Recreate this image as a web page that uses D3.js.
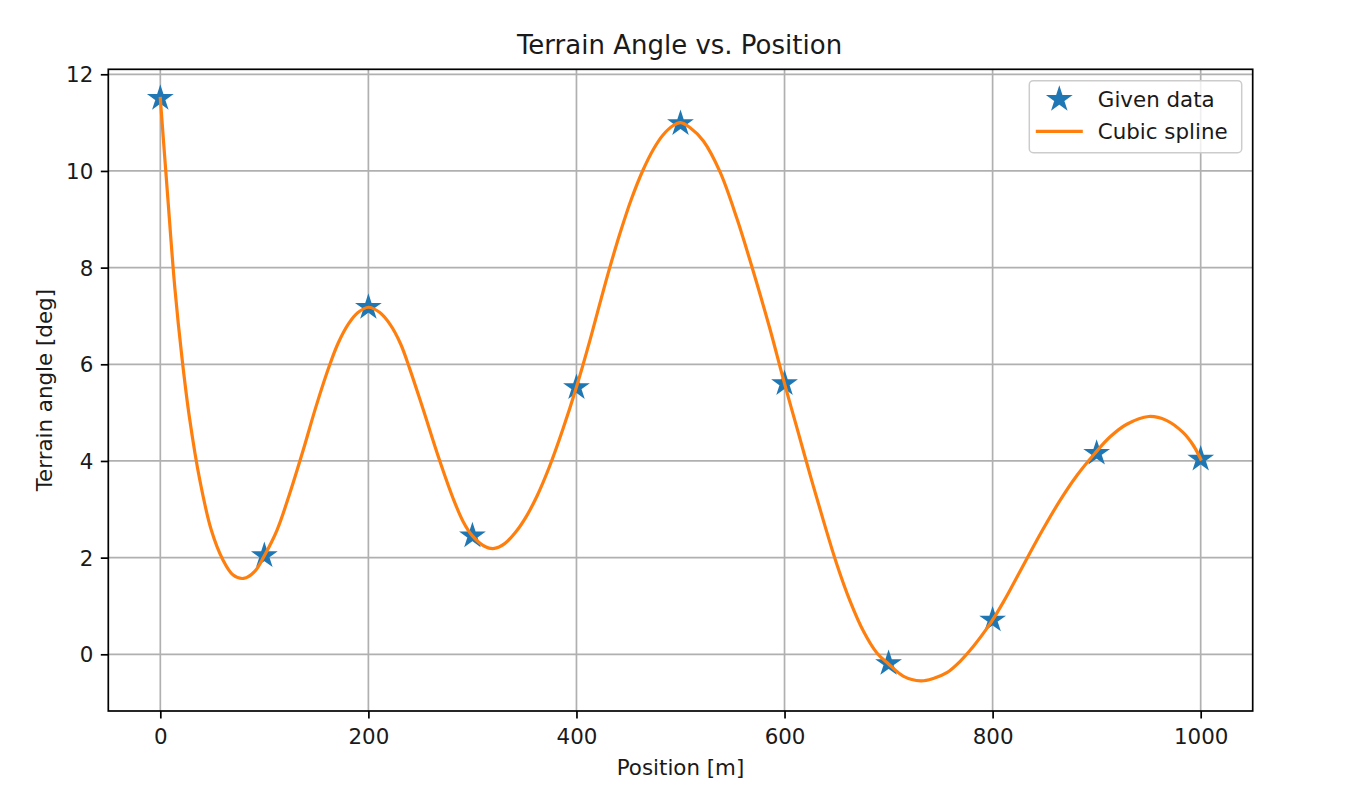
<!DOCTYPE html>
<html>
<head>
<meta charset="utf-8">
<script src="https://cdn.jsdelivr.net/npm/d3@7"></script>
<style>
    body { margin: 0; background: #fff; }
    text { font-family: 'DejaVu Sans', sans-serif; }
</style>
</head>
<body>
<svg id="canvas"></svg>
<script>
let width = 1347;
let height = 810;
let plotLeft = 108.3;
let plotRight = 1252.7;
let plotTop = 69.3;
let plotBottom = 711;

// given data (stars)
const positions = [0, 100, 200, 300, 400, 500, 600, 700, 800, 900, 1000];
const angles = [11.5, 2.04, 7.18, 2.45, 5.52, 10.98, 5.6, -0.19, 0.71, 4.16, 4.04];

// spline curve
const splinePositions = [
    0, 7, 14, 21, 28, 38, 49, 60, 70, 80, 91, 100, 112, 124, 137, 150, 163, 171, 181,
    190, 200, 211, 221, 231, 240, 252, 268, 281, 291, 300, 312, 321, 331, 342, 352,
    362, 374, 387, 400, 413, 422, 432, 442, 453, 464, 474, 483, 493, 500, 509, 522,
    538, 554, 570, 586, 600, 612, 625, 638, 650, 663, 676, 689, 700, 714, 731, 743,
    756, 769, 781, 794, 800, 810, 816, 832, 848, 865, 881, 898, 913, 929, 950, 967,
    983, 993, 1000,
];
const splineAngles = [
    11.5, 9.5, 7.57, 6.1, 4.9, 3.6, 2.57, 1.96, 1.64, 1.57, 1.72, 2.04, 2.56, 3.3, 4.2,
    5.15, 6.0, 6.44, 6.84, 7.07, 7.18, 7.07, 6.82, 6.42, 5.89, 5.11, 4.04, 3.25, 2.75,
    2.45, 2.23, 2.19, 2.29, 2.54, 2.86, 3.27, 3.88, 4.66, 5.53, 6.5, 7.22, 8.0, 8.72,
    9.43, 10.02, 10.45, 10.74, 10.94, 11.0, 10.9, 10.62, 9.98, 9.03, 7.92, 6.73, 5.6,
    4.68, 3.68, 2.72, 1.88, 1.1, 0.47, 0.02, -0.2, -0.45, -0.55, -0.5, -0.38, -0.14,
    0.15, 0.52, 0.71, 1.07, 1.3, 1.94, 2.57, 3.19, 3.7, 4.15, 4.5, 4.76, 4.92, 4.84,
    4.59, 4.32, 4.04,
];

const xTicks = [0, 200, 400, 600, 800, 1000];
const yTicks = [0, 2, 4, 6, 8, 10, 12];
const legendLabels = ['Given data', 'Cubic spline'];

const blue = '#1f77b4';
const orange = '#ff7f0e';
const ink = '#1a1a1a';

let canvas = d3.select('#canvas').attr('width', width).attr('height', height);

let xScale = d3.scaleLinear().domain([-50, 1050]).range([plotLeft, plotRight]);
let yScale = d3.scaleLinear().domain([-1.173, 12.103]).range([plotBottom, plotTop]);

// grid
canvas
    .append('g')
    .selectAll('line')
    .data(xTicks)
    .enter()
    .append('line')
    .attr('x1', (d) => xScale(d))
    .attr('x2', (d) => xScale(d))
    .attr('y1', plotTop)
    .attr('y2', plotBottom)
    .attr('stroke', '#b0b0b0')
    .attr('stroke-width', 1.7);

canvas
    .append('g')
    .selectAll('line')
    .data(yTicks)
    .enter()
    .append('line')
    .attr('x1', plotLeft)
    .attr('x2', plotRight)
    .attr('y1', (d) => yScale(d))
    .attr('y2', (d) => yScale(d))
    .attr('stroke', '#b0b0b0')
    .attr('stroke-width', 1.7);

// stars first, spline on top
let star = d3.symbol().type(d3.symbolStar).size(128);

canvas
    .append('g')
    .selectAll('path')
    .data(positions)
    .enter()
    .append('path')
    .attr('d', star)
    .attr('transform', (d, i) => `translate(${xScale(d)}, ${yScale(angles[i])})`)
    .attr('fill', blue)
    .attr('stroke', blue)
    .attr('stroke-width', 2.1);

let line = d3
    .line()
    .x((d) => xScale(d))
    .y((d, i) => yScale(splineAngles[i]))
    .curve(d3.curveCatmullRom.alpha(0.5));

canvas
    .append('path')
    .attr('d', line(splinePositions))
    .attr('fill', 'none')
    .attr('stroke', orange)
    .attr('stroke-width', 3.2)
    .attr('stroke-linejoin', 'round')
    .attr('stroke-linecap', 'square');

// axes
let xAxis = d3
    .axisBottom(xScale)
    .tickValues(xTicks)
    .tickFormat(d3.format('d'))
    .tickSize(7.5)
    .tickPadding(7.5);
let yAxis = d3
    .axisLeft(yScale)
    .tickValues(yTicks)
    .tickFormat(d3.format('d'))
    .tickSize(7.5)
    .tickPadding(7.5);

let gx = canvas
    .append('g')
    .attr('id', 'x-axis')
    .attr('transform', `translate(0, ${plotBottom})`)
    .call(xAxis);

let gy = canvas
    .append('g')
    .attr('id', 'y-axis')
    .attr('transform', `translate(${plotLeft}, 0)`)
    .call(yAxis);

[gx, gy].forEach((g) => {
    g.select('.domain').remove();
    g.selectAll('.tick line').attr('stroke', '#000').attr('stroke-width', 1.7);
    g.selectAll('.tick text')
        .attr('font-family', "'DejaVu Sans', sans-serif")
        .attr('font-size', '21.4px')
        .attr('fill', ink);
});
gx.selectAll('.tick text').attr('dy', null).attr('y', 33);
gy.selectAll('.tick text').attr('dy', '0.35em');

// frame
canvas
    .append('rect')
    .attr('x', plotLeft)
    .attr('y', plotTop)
    .attr('width', plotRight - plotLeft)
    .attr('height', plotBottom - plotTop)
    .attr('fill', 'none')
    .attr('stroke', '#000')
    .attr('stroke-width', 1.7);

// title and labels
canvas
    .append('text')
    .attr('x', (plotLeft + plotRight) / 2 - 1)
    .attr('y', 54)
    .attr('text-anchor', 'middle')
    .attr('font-size', '26px')
    .attr('fill', ink)
    .text('Terrain Angle vs. Position');

canvas
    .append('text')
    .attr('x', (plotLeft + plotRight) / 2)
    .attr('y', 775)
    .attr('text-anchor', 'middle')
    .attr('font-size', '21.4px')
    .attr('fill', ink)
    .text('Position [m]');

canvas
    .append('text')
    .attr('transform', `translate(52, ${(plotTop + plotBottom) / 2}) rotate(-90)`)
    .attr('text-anchor', 'middle')
    .attr('font-size', '21.4px')
    .attr('fill', ink)
    .text('Terrain angle [deg]');

// legend
let legend = canvas.append('g').attr('transform', 'translate(1029.3, 80.7)');

legend
    .append('rect')
    .attr('width', 212.4)
    .attr('height', 72)
    .attr('rx', 4)
    .attr('fill', '#fff')
    .attr('fill-opacity', 0.8)
    .attr('stroke', '#cccccc')
    .attr('stroke-width', 1.5);

legend
    .append('path')
    .attr('d', star)
    .attr('transform', 'translate(30, 18.6)')
    .attr('fill', blue)
    .attr('stroke', blue)
    .attr('stroke-width', 2.1);

legend
    .append('line')
    .attr('x1', 6.5)
    .attr('x2', 53.5)
    .attr('y1', 50.6)
    .attr('y2', 50.6)
    .attr('stroke', orange)
    .attr('stroke-width', 3.2);

legend
    .selectAll('text.label')
    .data(legendLabels)
    .enter()
    .append('text')
    .attr('class', 'label')
    .attr('x', 68.5)
    .attr('y', (d, i) => 26.3 + i * 32)
    .attr('font-size', '21.4px')
    .attr('fill', ink)
    .text((d) => d);
</script>
</body>
</html>
